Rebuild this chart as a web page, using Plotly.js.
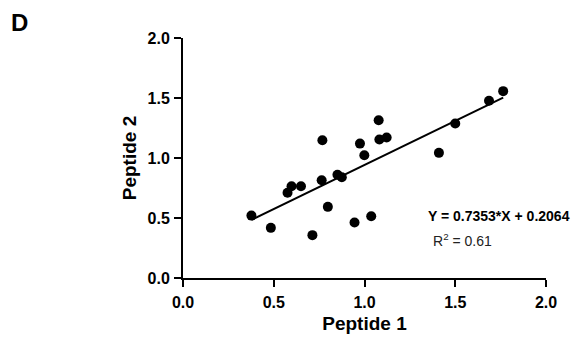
<!DOCTYPE html>
<html>
<head>
<meta charset="utf-8">
<script src="https://cdn.plot.ly/plotly-3.0.1.min.js"></script>
<style>
html,body{margin:0;padding:0;background:#fff;}
#chart{width:582px;height:343px;}
</style>
</head>
<body>
<div id="chart"></div>
<script>
// Data
var peptide1 = [0.377, 0.484, 0.576, 0.598, 0.650, 0.713, 0.764, 0.798, 0.851, 0.875, 0.945, 1.037, 0.768, 0.975, 0.999, 1.078, 1.082, 1.122, 1.41, 1.50, 1.686, 1.764];
var peptide2 = [0.52, 0.418, 0.71, 0.765, 0.765, 0.357, 0.815, 0.593, 0.86, 0.84, 0.4625, 0.515, 1.148, 1.12, 1.023, 1.315, 1.154, 1.171, 1.043, 1.2875, 1.477, 1.557];
var fitSlope = 0.7353;
var fitIntercept = 0.2064;
var fitR2 = 0.61;
var tickVals = [0, 0.5, 1.0, 1.5, 2.0];
var tickText = ["0.0", "0.5", "1.0", "1.5", "2.0"];

var xmin = Math.min.apply(null, peptide1);
var xmax = Math.max.apply(null, peptide1);
var fitX = [xmin, xmax];
var fitY = fitX.map(function (x) { return fitSlope * x + fitIntercept; });

var font = "Arial, 'Liberation Sans', sans-serif";

var traces = [
  {x: fitX, y: fitY, type: 'scatter', mode: 'lines', line: {color: '#000', width: 2}, hoverinfo: 'skip', cliponaxis: false},
  {x: peptide1, y: peptide2, type: 'scatter', mode: 'markers', marker: {color: '#000', size: 10}, cliponaxis: false}
];

var axisCommon = {
  range: [0, 2],
  tickvals: tickVals,
  ticktext: tickText,
  showline: true,
  linecolor: '#000',
  linewidth: 2,
  ticks: 'outside',
  ticklen: 7,
  tickwidth: 2,
  tickcolor: '#000',
  showgrid: false,
  zeroline: false,
  tickfont: {family: font, size: 16, color: '#000', weight: 'bold'}
};

var layout = {
  width: 582, height: 343,
  margin: {l: 183, r: 36, t: 38, b: 65},
  paper_bgcolor: '#fff', plot_bgcolor: '#fff',
  showlegend: false,
  font: {family: font, color: '#000'},
  xaxis: Object.assign({}, axisCommon, {
    ticklabelstandoff: 2,
    title: {text: 'Peptide 1', font: {family: font, size: 19, color: '#000', weight: 'bold'}, standoff: 6}
  }),
  yaxis: Object.assign({}, axisCommon, {
    ticklabelstandoff: 1,
    title: {text: 'Peptide 2', font: {family: font, size: 19, color: '#000', weight: 'bold'}, standoff: 6}
  }),
  annotations: [
    {text: 'D', xref: 'paper', yref: 'paper', x: -183/363, y: 1 + 38/240, xanchor: 'left', yanchor: 'top',
     xshift: 9, yshift: -7, showarrow: false, font: {family: font, size: 24, color: '#000', weight: 'bold'}},
    {text: 'Y = ' + fitSlope.toFixed(4) + '*X + ' + fitIntercept.toFixed(4), x: 1.34, y: 0.52, xref: 'x', yref: 'y', xanchor: 'left', yanchor: 'middle',
     showarrow: false, font: {family: font, size: 14, color: '#000', weight: 600}},
    {text: 'R<sup>2</sup> = ' + fitR2.toFixed(2), x: 1.365, y: 0.32, xref: 'x', yref: 'y', xanchor: 'left', yanchor: 'middle',
     showarrow: false, font: {family: font, size: 14, color: '#222'}}
  ]
};

Plotly.newPlot('chart', traces, layout, {staticPlot: true, displayModeBar: false});
</script>
</body>
</html>
